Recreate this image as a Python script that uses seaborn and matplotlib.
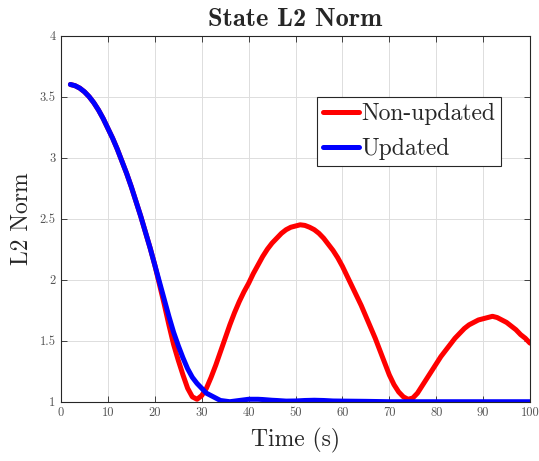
import matplotlib

matplotlib.use("Agg")
import matplotlib.pyplot as plt
import pandas as pd
import seaborn as sns

# values, one per second from t = 2 s
time_nonupd = list(range(2, 101))
norm_nonupd = [3.60, 3.59, 3.57, 3.54, 3.50, 3.45, 3.39, 3.32, 3.24, 3.16,
               3.07, 2.97, 2.87, 2.76, 2.64, 2.52, 2.39, 2.26, 2.12, 1.96,
               1.80, 1.63, 1.47, 1.34, 1.22, 1.11, 1.04, 1.02, 1.05, 1.11,
               1.20, 1.30, 1.41, 1.52, 1.63, 1.73, 1.82, 1.90, 1.97, 2.05,
               2.12, 2.19, 2.25, 2.30, 2.34, 2.38, 2.41, 2.43, 2.44, 2.45,
               2.445, 2.43, 2.41, 2.38, 2.34, 2.29, 2.24, 2.18, 2.11, 2.03,
               1.95, 1.87, 1.79, 1.70, 1.61, 1.52, 1.42, 1.32, 1.22, 1.14,
               1.08, 1.04, 1.02, 1.03, 1.07, 1.13, 1.19, 1.25, 1.31, 1.37,
               1.42, 1.47, 1.52, 1.56, 1.60, 1.63, 1.65, 1.67, 1.68, 1.69,
               1.70, 1.69, 1.67, 1.65, 1.62, 1.59, 1.55, 1.52, 1.48]

time_upd = list(range(2, 47)) + [48, 50, 52, 54, 56, 58, 60, 65, 70, 80, 90, 100]
norm_upd = [3.60, 3.59, 3.57, 3.54, 3.50, 3.45, 3.39, 3.32, 3.24, 3.16,
            3.07, 2.97, 2.87, 2.76, 2.64, 2.52, 2.39, 2.26, 2.12, 1.98,
            1.84, 1.70, 1.57, 1.46, 1.36, 1.27, 1.20, 1.15, 1.11, 1.07,
            1.05, 1.03, 1.01, 1.005, 1.00, 1.005, 1.01, 1.015, 1.02, 1.02,
            1.02, 1.018, 1.015, 1.012, 1.01,
            1.005, 1.006, 1.01, 1.012, 1.01, 1.006, 1.005, 1.003, 1.0, 1.0,
            1.0, 1.0]

x_ticks = list(range(0, 101, 10))
y_ticks = [1, 1.5, 2, 2.5, 3, 3.5, 4]
y_tick_labels = ["1", "1.5", "2", "2.5", "3", "3.5", "4"]

df = pd.concat([
    pd.DataFrame({"time": time_nonupd, "norm": norm_nonupd, "case": "Non-updated"}),
    pd.DataFrame({"time": time_upd, "norm": norm_upd, "case": "Updated"}),
])

sns.set_style("whitegrid")
plt.rcParams["font.family"] = ["cmr10", "DejaVu Serif"]
plt.rcParams["axes.formatter.use_mathtext"] = True

fig = plt.figure(figsize=(5.39, 4.61), dpi=100)
ax = fig.add_axes([0.1132, 0.1286, 0.8701, 0.7940])

sns.lineplot(data=df, x="time", y="norm", hue="case", sort=False,
             palette={"Non-updated": "#ff0000", "Updated": "#0000ff"},
             linewidth=3.6, ax=ax, estimator=None)
for line in ax.get_lines():
    line.set_solid_joinstyle("round")

ax.set_xlim(0, 100)
ax.set_ylim(1, 4)
ax.set_xticks(x_ticks)
ax.set_xticklabels([str(t) for t in x_ticks])
ax.set_yticks(y_ticks)
ax.set_yticklabels(y_tick_labels)
ax.tick_params(direction="in", length=4, width=0.6, colors="#262626",
               labelcolor="#555555", labelsize=9, top=True, right=True,
               bottom=True, left=True, pad=4)
ax.grid(True, color="#dddddd", linewidth=0.7)
for sp in ax.spines.values():
    sp.set_color("#262626")
    sp.set_linewidth(0.8)

ax.set_xlabel("Time (s)", fontsize=17, color="#262626", labelpad=6)
ax.set_ylabel("L2 Norm", fontsize=17, color="#262626", labelpad=5)
ax.set_title("State L2 Norm", fontsize=19, family="cmb10", pad=7)

leg = ax.legend(loc="upper right", bbox_to_anchor=(0.938, 0.833),
                fontsize=17, frameon=True, fancybox=False, borderaxespad=0,
                handlelength=1.5, handletextpad=0.1, borderpad=0.25,
                labelspacing=0.55)
leg.get_frame().set_edgecolor("#262626")
leg.get_frame().set_linewidth(0.8)
leg.get_frame().set_alpha(1)
for line in leg.get_lines():
    line.set_linewidth(3.6)

fig.savefig("out.png", dpi=100)
